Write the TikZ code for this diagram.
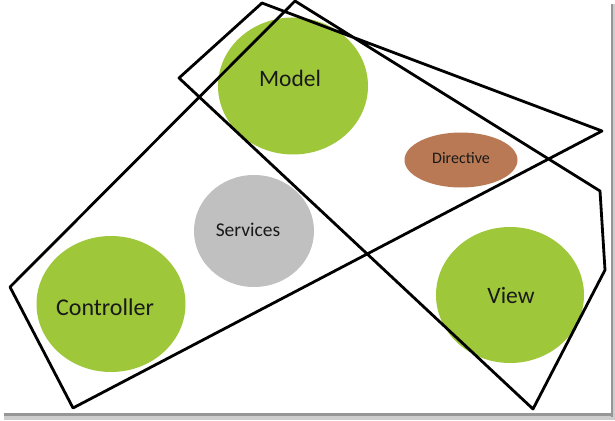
\documentclass[tikz,border=0pt]{standalone}
\usepackage{fontspec}
\setmainfont{Carlito}
\usetikzlibrary{shapes.geometric}
\definecolor{mgreen}{RGB}{158,199,58}
\definecolor{mbrown}{RGB}{184,121,84}
\definecolor{mgray}{RGB}{192,192,192}
\definecolor{shadowA}{RGB}{150,150,150}
\definecolor{shadowB}{RGB}{205,205,205}
\tikzset{
  blob/.style={ellipse, draw=none, inner sep=0pt},
  txt/.style={inner sep=0pt, text=black!90},
  outline/.style={draw=black, line width=2.8pt, line join=round},
}
\begin{document}
\begin{tikzpicture}[x=1pt,y=-1pt]
\useasboundingbox (0,0) rectangle (615,420);
\fill[white] (0,0) rectangle (615,420);
% drop shadow of the frame
\fill[shadowB] (613,4) rectangle (615,420);
\fill[shadowB] (4,416) rectangle (615,420);
\fill[shadowA] (610.5,4) rectangle (613,417);
\fill[shadowA] (4,413) rectangle (613,416);
% ellipses
\node[blob, fill=mgreen, minimum width=150pt, minimum height=137pt] (model) at (293,86) {};
\node[blob, fill=mbrown, minimum width=113pt, minimum height=55pt] (directive) at (461,160) {};
\node[blob, fill=mgray, minimum width=120pt, minimum height=112pt] (services) at (254,231) {};
\node[blob, fill=mgreen, minimum width=149pt, minimum height=136pt] (controller) at (111,304) {};
\node[blob, fill=mgreen, minimum width=148pt, minimum height=136pt] (view) at (510,295) {};
% labels
\node[txt, font=\fontsize{23.5}{26}\selectfont] (modelT) at ([shift={(-3,-8)}]model.center) {Model};
\node[txt, font=\fontsize{16}{18}\selectfont] (directiveT) at ([shift={(0,-2)}]directive.center) {Directive};
\node[txt, font=\fontsize{19.5}{22}\selectfont] (servicesT) at ([shift={(-6,-1)}]services.center) {Services};
\node[txt, font=\fontsize{24}{26}\selectfont] (controllerT) at ([shift={(-6,3)}]controller.center) {Controller};
\node[txt, font=\fontsize{23.5}{26}\selectfont] (viewT) at ([shift={(1,0)}]view.center) {View};
% hand-drawn outline
\coordinate (p1) at (10,287);
\coordinate (p2) at (295,1);
\coordinate (p3) at (600,191);
\coordinate (p4) at (605,270);
\coordinate (p5) at (533,409);
\coordinate (p6) at (179,78);
\coordinate (p7) at (262,3);
\coordinate (p8) at (602,131);
\coordinate (p9) at (73,408);
\draw[outline] (p1) -- (p2) -- (p3) -- (p4) -- (p5) -- (p6) -- (p7) -- (p8) -- (p9) -- cycle;
\end{tikzpicture}
\end{document}
